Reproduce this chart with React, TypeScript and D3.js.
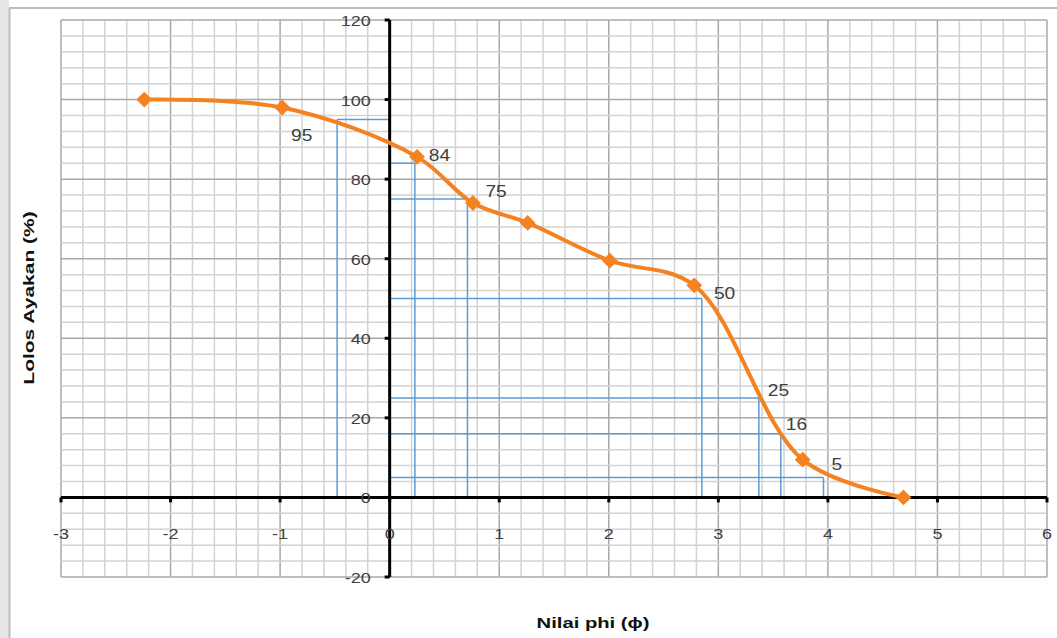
import React from "react";
import * as d3 from "d3";

const phiValues = [-2.24, -0.98, 0.25, 0.76, 1.26, 2.01, 2.78, 3.77, 4.69];
const passValues = [100, 98, 85.6, 74, 69, 59.5, 53.3, 9.5, 0];

const refPercents = [95, 84, 75, 50, 25, 16, 5];
const refPhis = [-0.48, 0.23, 0.71, 2.85, 3.37, 3.57, 3.96];

const xTicks = [-3, -2, -1, 0, 1, 2, 3, 4, 5, 6];
const yTicks = [-20, 0, 20, 40, 60, 80, 100, 120];

const W = 1057;
const H = 638;
const font = "Arial, 'Liberation Sans', sans-serif";

function SText(props: {
  x: number;
  y: number;
  anchor?: string;
  size: number;
  sx?: number;
  bold?: boolean;
  fill?: string;
  rotate?: number;
  children: React.ReactNode;
}) {
  const { x, y, anchor = "start", size, sx = 1.2, bold, fill = "#404040", rotate = 0 } = props;
  return (
    <text
      transform={`translate(${x},${y}) rotate(${rotate}) scale(${sx},1)`}
      textAnchor={anchor}
      fontFamily={font}
      fontSize={size}
      fontWeight={bold ? "bold" : "normal"}
      fill={fill}
    >
      {props.children}
    </text>
  );
}

export default function App() {
  const x = d3.scaleLinear().domain([-3, 6]).range([61, 1047]);
  const y = d3.scaleLinear().domain([-20, 120]).range([577, 20]);

  const minorX = d3.range(-3, 6.0001, 0.2).map((v) => +v.toFixed(2));
  const minorY = d3.range(-20, 120.0001, 4);

  const line = d3
    .line<[number, number]>()
    .x((d) => x(d[0]))
    .y((d) => y(d[1]))
    .curve(d3.curveCatmullRom.alpha(0.5));

  const pts: [number, number][] = phiValues.map((p, i) => [p, passValues[i]]);

  const labelOffsets: Record<number, [number, number]> = {
    95: [-46, 22],
    84: [14, -2],
    75: [18, -2],
    50: [12, 0],
    25: [9, -2],
    16: [5, -4],
    5: [8, -8],
  };

  const diamond = d3.symbol(d3.symbolSquare, 125)() || "";

  return (
    <svg
      width={W}
      height={H}
      style={{ position: "absolute", left: 0, top: 0, background: "#fff" }}
    >
      <rect x={0} y={0} width={9} height={H} fill="#e6e6e6" />
      <line x1={9} y1={8} x2={W} y2={8} stroke="#bdbdbd" strokeWidth={2} />
      <line x1={9.5} y1={8} x2={9.5} y2={H} stroke="#bdbdbd" strokeWidth={2} />

      {/* grid */}
      {minorX.map((v) => (
        <line
          key={"mx" + v}
          x1={x(v)}
          x2={x(v)}
          y1={y(120)}
          y2={y(-20)}
          stroke={Math.abs(v - Math.round(v)) < 1e-6 ? "#a8a8a8" : "#d2d2d2"}
          strokeWidth={1.5}
        />
      ))}
      {minorY.map((v) => (
        <line
          key={"my" + v}
          x1={x(-3)}
          x2={x(6)}
          y1={y(v)}
          y2={y(v)}
          stroke={v % 20 === 0 ? "#a8a8a8" : "#d2d2d2"}
          strokeWidth={1.5}
        />
      ))}

      {/* reference lines */}
      {refPercents.map((p, i) => (
        <g key={"ref" + p} stroke="#5b9bd5" strokeWidth={1.5} fill="none">
          <line x1={x(0)} x2={x(refPhis[i])} y1={y(p)} y2={y(p)} />
          <line x1={x(refPhis[i])} x2={x(refPhis[i])} y1={y(p)} y2={y(0)} />
        </g>
      ))}

      {/* axes */}
      <line x1={x(-3)} x2={x(6)} y1={y(0)} y2={y(0)} stroke="#000" strokeWidth={3} />
      <line x1={x(0)} x2={x(0)} y1={y(120)} y2={y(-20)} stroke="#000" strokeWidth={3} />
      {xTicks.map((t) => (
        <line key={"xt" + t} x1={x(t)} x2={x(t)} y1={y(0)} y2={y(0) + 5} stroke="#000" strokeWidth={3} />
      ))}
      {yTicks.map((t) => (
        <line key={"yt" + t} x1={x(0) - 5} x2={x(0)} y1={y(t)} y2={y(t)} stroke="#000" strokeWidth={3} />
      ))}

      {/* tick labels */}
      {xTicks.map((t) => (
        <SText key={"xl" + t} x={x(t)} y={y(0) + 42} anchor="middle" size={15}>
          {t}
        </SText>
      ))}
      {yTicks.map((t) => (
        <SText key={"yl" + t} x={x(0) - 19} y={y(t) + 6} anchor="end" size={15}>
          {t}
        </SText>
      ))}

      {/* curve */}
      <path d={line(pts) || ""} fill="none" stroke="#f58220" strokeWidth={4} />
      {pts.map((d, i) => (
        <path
          key={"m" + i}
          d={diamond}
          transform={`translate(${x(d[0])},${y(d[1])}) rotate(45)`}
          fill="#f58220"
        />
      ))}

      {/* reference labels */}
      {refPercents.map((p, i) => (
        <SText
          key={"rl" + p}
          x={x(refPhis[i]) + labelOffsets[p][0]}
          y={y(p) + labelOffsets[p][1]}
          size={16}
        >
          {p}
        </SText>
      ))}

      {/* axis titles */}
      <SText x={34} y={298} rotate={-90} anchor="middle" size={15} sx={1.4} bold fill="#111">
        Lolos Ayakan (%)
      </SText>
      <SText x={593} y={628} anchor="middle" size={15} sx={1.35} bold fill="#111">
        Nilai phi (ϕ)
      </SText>
    </svg>
  );
}
